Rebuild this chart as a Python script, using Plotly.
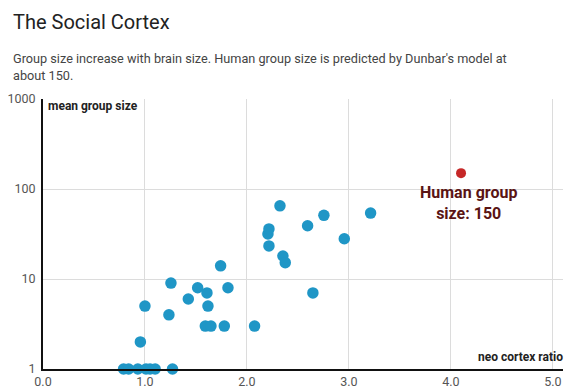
import math
import plotly.graph_objects as go

# Primate data: neocortex ratio vs mean group size
neo_cortex = [0.79, 0.84, 0.93, 1.01, 1.05, 1.10, 1.27,
              0.955, 1.0, 1.235, 1.255, 1.425, 1.517, 1.592, 1.608, 1.618, 1.647,
              1.742, 1.778, 1.814, 2.075, 2.206, 2.216, 2.216, 2.324, 2.353, 2.376,
              2.595, 2.647, 2.755, 2.955, 3.213]
group_size = [1, 1, 1, 1, 1, 1, 1,
              2, 5, 4, 9, 6, 8, 3, 7, 5, 3,
              14, 3, 8, 3, 31.6, 36, 23.3, 65, 18, 15.2,
              39, 7, 51, 28, 54]

human_ratio = [4.1]
human_size = [150]
human_label = "Human group<br>size: 150"

x_ticks = [0, 1, 2, 3, 4, 5]
x_tick_labels = ["0.0", "1.0", "2.0", "3.0", "4.0", "5.0"]
y_ticks = [1, 10, 100, 1000]
y_tick_labels = ["1", "10", "100", "1000"]

# page body has an 8px margin; lay out in window pixels and shift
OFF = 8
W, H = 575 - OFF, 391 - OFF
ML, MR, MT, MB = 43 - OFF, 12, 99 - OFF, 22
PW, PH = W - ML - MR, H - MT - MB

def px(x):
    return (x - OFF - ML) / PW

def py(y):
    return (H - MB - (y - OFF)) / PH

fig = go.Figure()
fig.add_trace(go.Scatter(
    x=neo_cortex, y=group_size, mode="markers",
    marker=dict(size=11.5, color="#1f96c6", line=dict(width=0)),
    showlegend=False, cliponaxis=False))
fig.add_trace(go.Scatter(
    x=human_ratio, y=human_size, mode="markers",
    marker=dict(size=10, color="#c62828", line=dict(width=0)),
    showlegend=False, cliponaxis=False))

fig.update_layout(
    width=W, height=H,
    margin=dict(l=ML, r=MR, t=MT, b=MB, autoexpand=False),
    paper_bgcolor="white", plot_bgcolor="white",
    font=dict(family="Roboto", color="#444", size=12),
    xaxis=dict(range=[0, 5.1], tickvals=x_ticks, ticktext=x_tick_labels,
               showgrid=True, gridcolor="#dcdcdc", gridwidth=1,
               zeroline=False, showline=True, linecolor="#111", linewidth=2,
               ticks="", ticklabelstandoff=0, tickfont=dict(size=12.5, color="#555")),
    yaxis=dict(type="log", range=[0, 3], tickvals=y_ticks, ticktext=y_tick_labels,
               showgrid=True, gridcolor="#dcdcdc", gridwidth=1,
               zeroline=False, showline=True, linecolor="#111", linewidth=2,
               ticks="", ticklabelstandoff=3, tickfont=dict(size=12.5, color="#555")),
    annotations=[
        dict(text="The Social Cortex", xref="paper", yref="paper",
             x=px(11), y=py(8), xanchor="left", yanchor="top", showarrow=False,
             font=dict(size=20, color="#222", family="Roboto")),
        dict(text="Group size increase with brain size. Human group size is predicted by Dunbar's model at<br>about 150.",
             xref="paper", yref="paper", x=px(11), y=py(49), xanchor="left", yanchor="top",
             align="left", showarrow=False,
             font=dict(size=12.7, color="#444", family="Roboto")),
        dict(text="<b>mean group size</b>", xref="paper", yref="paper",
             x=px(46), y=py(97), xanchor="left", yanchor="top", showarrow=False,
             font=dict(size=12, color="#222")),
        dict(text="<b>neo cortex ratio</b>", xref="paper", yref="paper",
             x=px(565), y=py(366), xanchor="right", yanchor="bottom", showarrow=False,
             font=dict(size=12, color="#222")),
        dict(text="<b>" + human_label + "</b>", x=4.17, y=math.log10(70),
             xref="x", yref="y", xanchor="center", yanchor="middle", showarrow=False,
             font=dict(size=16, color="#5a1414")),
    ],
)

fig.write_html("out.html")
